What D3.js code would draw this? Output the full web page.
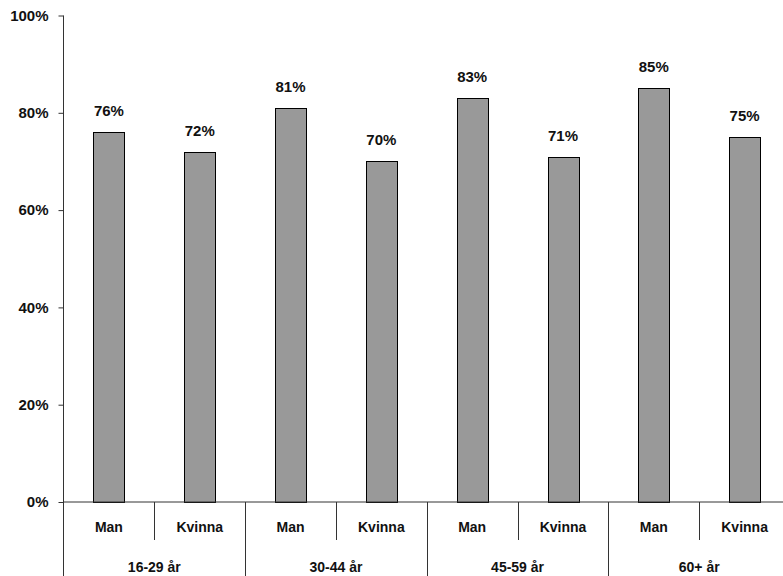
<!DOCTYPE html>
<html lang="sv">
<head>
<meta charset="utf-8">
<title>Andel per kön och ålder</title>
<script src="https://cdnjs.cloudflare.com/ajax/libs/d3/7.8.5/d3.min.js"></script>
<style>
  body { margin:0; background:white; }
  svg text { font-family:"Liberation Sans", Arial, sans-serif; fill:#111; }
</style>
</head>
<body>
<svg id="chart" width="783" height="576"></svg>
<script>
// data
var ageGroups = ["16-29 år", "30-44 år", "45-59 år", "60+ år"];
var sexes = ["Man", "Kvinna"];
var values = [76, 72, 81, 70, 83, 71, 85, 75];
var yTicks = [0, 20, 40, 60, 80, 100];

var svg = d3.select("#chart");
var m = { left: 63.5, right: 790, top: 15.5, bottom: 502 };

// one band per bar, in order age group -> sex
var keys = [];
ageGroups.forEach(function(g){ sexes.forEach(function(s){ keys.push(g + "|" + s); }); });

var x = d3.scaleBand().domain(keys).range([m.left, m.right]).paddingInner(0.66).paddingOuter(0.33);
var step = x.step();
var y = d3.scaleLinear().domain([0, 100]).range([m.bottom, m.top]);

// bars
svg.selectAll("rect.bar")
  .data(values)
  .enter().append("rect")
    .attr("class", "bar")
    .attr("x", function(d, i){ return Math.round(x(keys[i])) + 0.5; })
    .attr("y", function(d){ return Math.round(y(d)) + 0.5; })
    .attr("width", Math.round(x.bandwidth()))
    .attr("height", function(d){ return Math.round(y(0)) - Math.round(y(d)); })
    .attr("fill", "#999999")
    .attr("stroke", "#000")
    .attr("stroke-width", 1);

// value labels
svg.selectAll("text.val")
  .data(values)
  .enter().append("text")
    .attr("class", "val")
    .attr("x", function(d, i){ return x(keys[i]) + x.bandwidth() / 2; })
    .attr("y", function(d){ return y(d) - 16; })
    .attr("text-anchor", "middle")
    .style("font-size", "15px")
    .style("font-weight", "bold")
    .text(function(d){ return d + "%"; });

// y axis
var yAxis = d3.axisLeft(y).tickValues(yTicks).tickSize(5).tickPadding(10)
  .tickFormat(function(d){ return d + "%"; });
var gy = svg.append("g").attr("transform", "translate(" + m.left + ",0)").call(yAxis);
gy.select(".domain").remove();
gy.selectAll("line").attr("stroke", "#333");
gy.selectAll("text").style("font-size", "15px").style("font-weight", "bold").attr("fill", "#111");
svg.append("line").attr("x1", m.left).attr("x2", m.left).attr("y1", m.top).attr("y2", 576)
  .attr("stroke", "#333");

// x axis baseline
svg.append("line").attr("x1", m.left).attr("x2", m.right).attr("y1", m.bottom).attr("y2", m.bottom)
  .attr("stroke", "#333");

// inner category labels and separators
svg.selectAll("text.sex")
  .data(keys)
  .enter().append("text")
    .attr("class", "sex")
    .attr("x", function(d){ return x(d) + x.bandwidth() / 2; })
    .attr("y", 532)
    .attr("text-anchor", "middle")
    .style("font-size", "14px")
    .style("font-weight", "bold")
    .text(function(d){ return d.split("|")[1]; });

var boundaries = d3.range(1, keys.length);
svg.selectAll("line.sep")
  .data(boundaries)
  .enter().append("line")
    .attr("class", "sep")
    .attr("x1", function(i){ return Math.round(m.left + i * step) + 0.5; })
    .attr("x2", function(i){ return Math.round(m.left + i * step) + 0.5; })
    .attr("y1", m.bottom)
    .attr("y2", function(i){ return i % 2 === 0 ? 576 : 540; })
    .attr("stroke", "#333");

// outer group labels
svg.selectAll("text.age")
  .data(ageGroups)
  .enter().append("text")
    .attr("class", "age")
    .attr("x", function(d, i){ return m.left + (i * 2 + 1) * step; })
    .attr("y", 572)
    .attr("text-anchor", "middle")
    .style("font-size", "14px")
    .style("font-weight", "bold")
    .text(function(d){ return d; });
</script>
</body>
</html>
